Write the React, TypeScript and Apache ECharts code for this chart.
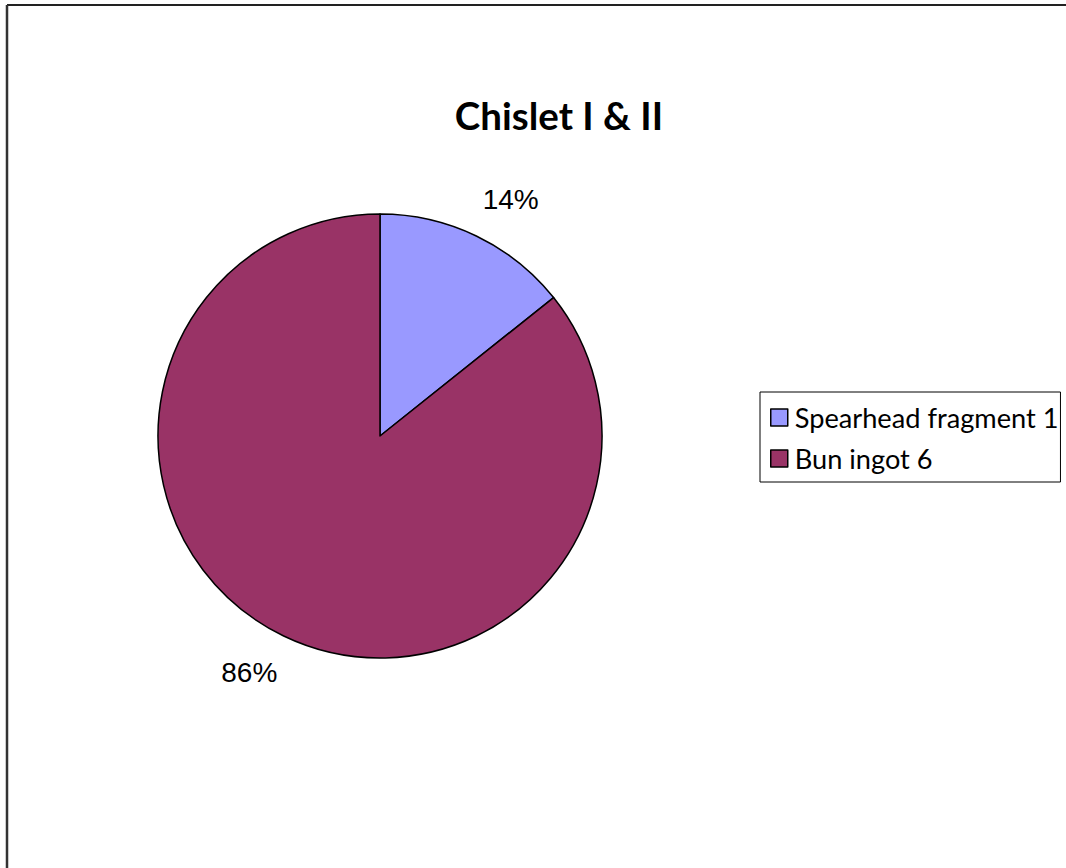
import React, { useEffect, useRef } from "react";
import * as echarts from "echarts";

const categories = ["Spearhead fragment 1", "Bun ingot 6"];
const values = [1, 6];
const colors = ["#9999FF", "#993366"];
const title = "Chislet I & II";

export default function App() {
  const ref = useRef<HTMLDivElement>(null);
  useEffect(() => {
    if (!ref.current) return;
    const chart = echarts.init(ref.current, null, { renderer: "svg" });
    chart.setOption({
      animation: false,
      backgroundColor: "#ffffff",
      title: {
        text: title,
        left: 554,
        top: 90,
        textAlign: "center",
        textStyle: {
          fontFamily: "Lato",
          fontWeight: "bold",
          fontSize: 38.5,
          color: "#000000",
        },
      },
      legend: {
        orient: "vertical",
        left: 760,
        top: 392,
        data: categories,
        icon: "rect",
        itemWidth: 17,
        itemHeight: 17,
        itemGap: 14,
        padding: [12, 2, 10, 10],
        borderColor: "#000000",
        borderWidth: 1,
        itemStyle: { borderColor: "#000000", borderWidth: 1.5 },
        textStyle: { fontFamily: "Lato", fontSize: 27.2, color: "#000000", padding: [0, 0, 0, 2] },
      },
      graphic: [
        {
          type: "line",
          shape: { x1: 7, y1: 5, x2: 1066, y2: 5 },
          style: { stroke: "#222222", lineWidth: 2 },
          silent: true,
        },
        {
          type: "line",
          shape: { x1: 7, y1: 5, x2: 7, y2: 868 },
          style: { stroke: "#333333", lineWidth: 2.5 },
          silent: true,
        },
      ],
      series: [
        {
          type: "pie",
          center: [380, 436],
          radius: 222,
          startAngle: 90,
          clockwise: true,
          avoidLabelOverlap: false,
          data: categories.map((name, i) => ({
            name,
            value: values[i],
            itemStyle: { color: colors[i] },
          })),
          itemStyle: { borderColor: "#000000", borderWidth: 1.5 },
          label: {
            show: true,
            position: "outside",
            formatter: (p: any) => Math.round(p.percent) + "%",
            fontFamily: "Liberation Sans",
            fontSize: 28,
            color: "#000000",
            distanceToLabelLine: -11,
          },
          labelLine: { show: false, length: 40, length2: 0 },
          emphasis: { disabled: true },
        },
      ],
    });
    return () => chart.dispose();
  }, []);
  return (
    <div
      ref={ref}
      style={{ position: "absolute", left: 0, top: 0, width: 1066, height: 868 }}
    />
  );
}
